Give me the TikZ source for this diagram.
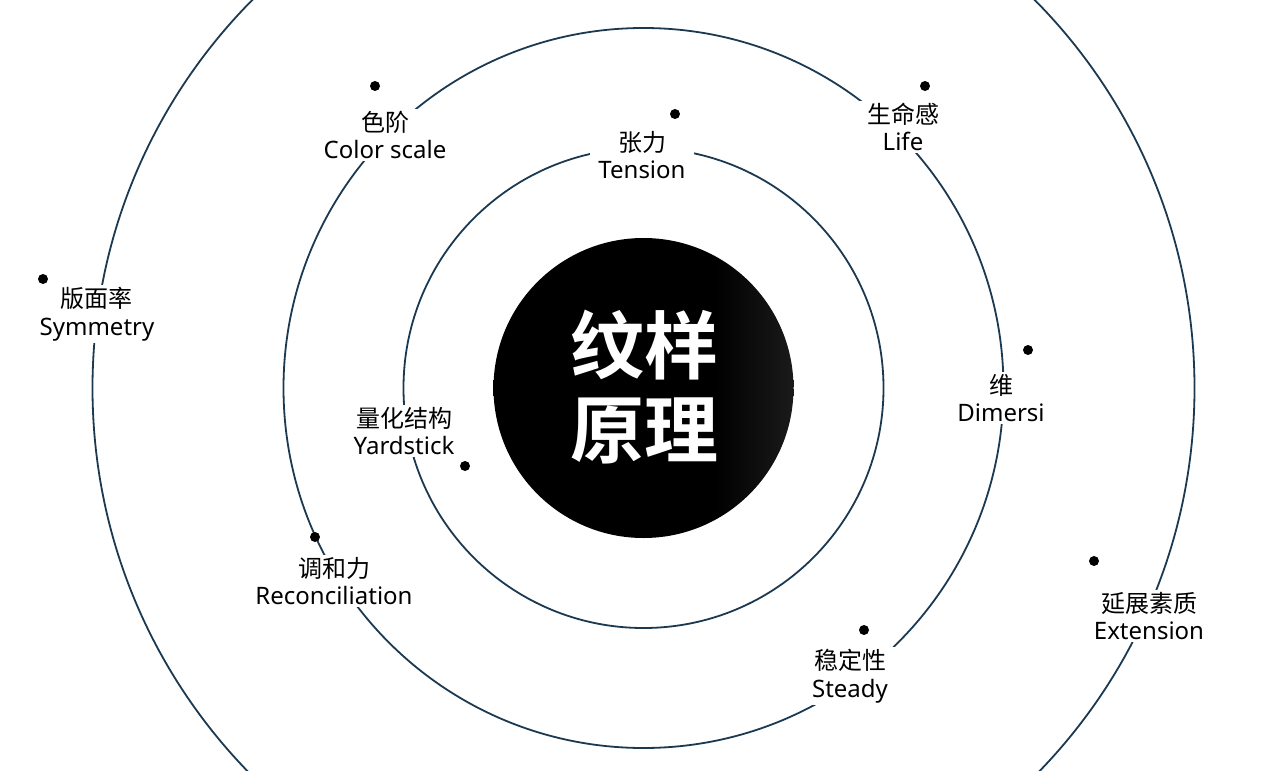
\documentclass[tikz,border=0pt]{standalone}
\usepackage{fontspec}
\setmainfont{Noto Sans CJK SC}
\newfontfamily\latinfont{Noto Sans}
\newfontfamily\titlefont{Noto Sans CJK SC}[BoldFont=* Bold]
\definecolor{ringblue}{HTML}{1B3A52}
\pgfdeclarehorizontalshading{ballshade}{100bp}{color(0bp)=(black); color(62bp)=(black); color(100bp)=(black!70!white)}
\tikzset{
  ring/.style={draw=ringblue, line width=1.8pt},
  lbl/.style={fill=white, align=center, inner xsep=8pt, inner ysep=2pt,
    font=\fontsize{24}{27.5}\selectfont},
  dotmark/.style={circle, fill=black, minimum size=10pt, inner sep=0pt},
  ball/.style={circle, shading=ballshade, minimum size=300pt, inner sep=0pt},
}
\begin{document}
\begin{tikzpicture}[x=1pt,y=-1pt]
\useasboundingbox (0,0) rectangle (1280,771);
\clip (0,0) rectangle (1280,771);
\fill[white] (0,0) rectangle (1280,771);
\coordinate (c) at (643.5,388);
\draw[ring] (c) circle[radius=240];
\draw[ring] (c) circle[radius=360];
\draw[ring] (c) circle[radius=551];
\node[ball] (core) at (c) {};
\node[text=white, align=center, font=\titlefont\bfseries\fontsize{74}{84}\selectfont] (title) at (644,387) {纹样\\原理};
% labels
\node[lbl] (colorscale) at (385,135) {色阶\\{\latinfont Color scale}};
\node[lbl] (tension) at (642,155) {张力\\{\latinfont Tension}};
\node[lbl] (life) at (903,127) {生命感\\{\latinfont Life}};
\node[lbl] (symmetry) at (97,314) {版面率\\{\latinfont Symmetry}};
\node[lbl] (yardstick) at (404,431) {量化结构\\{\latinfont Yardstick}};
\node[lbl] (dimersi) at (1001,398) {维\\{\latinfont Dimersi}};
\node[lbl] (reconc) at (334,581) {调和力\\{\latinfont Reconciliation}};
\node[lbl] (steady) at (850,676) {稳定性\\{\latinfont Steady}};
\node[lbl] (extension) at (1149,616) {延展素质\\{\latinfont Extension}};
% dots
\node[dotmark] (d1) at (375,86) {};
\node[dotmark] (d2) at (675,114) {};
\node[dotmark] (d3) at (925,86) {};
\node[dotmark] (d4) at (43,279) {};
\node[dotmark] (d5) at (465,466) {};
\node[dotmark] (d6) at (1028,350) {};
\node[dotmark] (d7) at (315,537) {};
\node[dotmark] (d8) at (864,630) {};
\node[dotmark] (d9) at (1094,561) {};
\end{tikzpicture}
\end{document}
